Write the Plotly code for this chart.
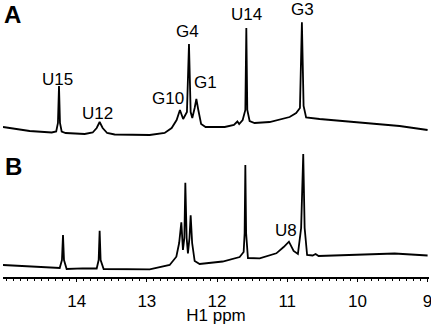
import plotly.graph_objects as go

# Spectrum A (ppm, intensity)
ppm_a = [15.05, 14.67, 14.356, 14.292, 14.267, 14.252, 14.238, 14.214, 14.157, 13.886,
         13.772, 13.715, 13.673, 13.630, 13.566, 13.459, 12.960, 12.747, 12.647, 12.576,
         12.529, 12.483, 12.429, 12.400, 12.376, 12.353, 12.319, 12.295, 12.267, 12.227,
         12.163, 11.89, 11.76, 11.71, 11.685, 11.635, 11.597, 11.583, 11.569, 11.536,
         11.465, 11.251, 10.966, 10.873, 10.819, 10.791, 10.767, 10.731, 10.539, 9.826,
         9.399, 9.0]
int_a = [6, 2, 0.5, 1.5, 10, 47, 10, 1.5, 0, -1,
         0.5, 5, 11, 5, 0, -1.5, -2, 0, 5, 13,
         23, 14, 21, 89, 21, 15, 25, 34, 23, 9,
         6, 6, 8, 11.5, 9, 13, 23, 105, 23, 12,
         10, 11, 16, 20, 25, 110.7, 27, 15.5, 14, 10,
         7, 3]

# Spectrum B (ppm, intensity)
ppm_b = [15.05, 14.385, 14.242, 14.21, 14.195, 14.181, 14.143, 13.915, 13.715, 13.687,
         13.673, 13.659, 13.616, 12.96, 12.675, 12.580, 12.540, 12.509, 12.486, 12.466,
         12.452, 12.433, 12.415, 12.393, 12.376, 12.355, 12.319, 12.248, 11.920, 11.678,
         11.621, 11.607, 11.597, 11.586, 11.560, 11.393, 11.155, 11.051, 10.976, 10.909,
         10.848, 10.802, 10.772, 10.752, 10.717, 10.638, 10.596, 10.553, 9.826, 9.470,
         9.0]
int_b = [3, 0.7, 0, 8, 33, 8, -1, -0.3, -0.5, 8,
         37.3, 8, -1, -1.3, 3, 11.3, 25, 45.7, 18, 30,
         85.3, 30, 14.7, 30, 52.7, 25, 7, 4, 6.5, 11,
         16, 35, 103, 35, 10, 9.7, 14.7, 21, 26.3, 17,
         14, 40, 114, 40, 13, 12.5, 14, 12, 13.7, 14.5,
         12.5]

# Peak labels
labels_a = ["U15", "U12", "G10", "G4", "G1", "U14", "G3"]
label_ppm_a = [14.271, 13.708, 12.70, 12.415, 12.167, 11.579, 10.781]
label_int_a = [54, 19.7, 34.3, 101.3, 51, 118.7, 124]
labels_b = ["U8"]
label_ppm_b = [11.019]
label_int_b = [38]

tick_vals = [14, 13, 12, 11, 10, 9]
tick_text = ["14", "13", "12", "11", "10", "9"]

FONT = "Liberation Sans, Arial, sans-serif"

fig = go.Figure()
fig.add_trace(go.Scatter(x=ppm_a, y=int_a, mode="lines", xaxis="x", yaxis="y",
                         line=dict(color="black", width=1.8), hoverinfo="skip"))
fig.add_trace(go.Scatter(x=ppm_b, y=int_b, mode="lines", xaxis="x", yaxis="y2",
                         line=dict(color="black", width=1.8), hoverinfo="skip"))

annotations = []
for t, xv, yv in zip(labels_a, label_ppm_a, label_int_a):
    annotations.append(dict(x=xv, y=yv, xref="x", yref="y", text=t, showarrow=False,
                            xanchor="center", yanchor="middle",
                            font=dict(family=FONT, size=17, color="black")))
for t, xv, yv in zip(labels_b, label_ppm_b, label_int_b):
    annotations.append(dict(x=xv, y=yv, xref="x", yref="y2", text=t, showarrow=False,
                            xanchor="center", yanchor="middle",
                            font=dict(family=FONT, size=17, color="black")))
annotations.append(dict(x=0.0223, y=0.9477, xref="paper", yref="paper", text="<b>A</b>",
                        showarrow=False, xanchor="center", yanchor="middle",
                        font=dict(family=FONT, size=24, color="black")))
annotations.append(dict(x=0.0242, y=0.4007, xref="paper", yref="paper", text="<b>B</b>",
                        showarrow=False, xanchor="center", yanchor="middle",
                        font=dict(family=FONT, size=24, color="black")))

fig.update_layout(
    width=431, height=325,
    margin=dict(l=3, r=2, t=0, b=48),
    paper_bgcolor="white", plot_bgcolor="white",
    showlegend=False,
    font=dict(family=FONT, size=17, color="black"),
    xaxis=dict(range=[15.05, 8.98], anchor="y2", showline=True, linecolor="black",
               linewidth=1.5, showgrid=False, zeroline=False,
               tickmode="array", tickvals=tick_vals, ticktext=tick_text,
               ticks="outside", ticklen=3, tickwidth=1, tickcolor="black",
               minor=dict(dtick=0.1, tick0=9, ticks="outside", ticklen=2, tickwidth=1,
                          tickcolor="black", showgrid=False),
               tickfont=dict(family=FONT, size=17, color="black"),
               ticklabelstandoff=5, ticklabeloverflow="allow",
               title=dict(text="H1 ppm", font=dict(family=FONT, size=17, color="black"),
                          standoff=0)),
    yaxis=dict(domain=[0.5, 1], range=[-5.5, 133], visible=False, showgrid=False,
               zeroline=False),
    yaxis2=dict(domain=[0, 0.48], range=[-9, 124], visible=False, showgrid=False,
                zeroline=False),
    annotations=annotations,
)

fig.write_html("out.html", config={"displayModeBar": False},
               post_script="document.body.style.margin='0';document.body.style.overflow='hidden';")
